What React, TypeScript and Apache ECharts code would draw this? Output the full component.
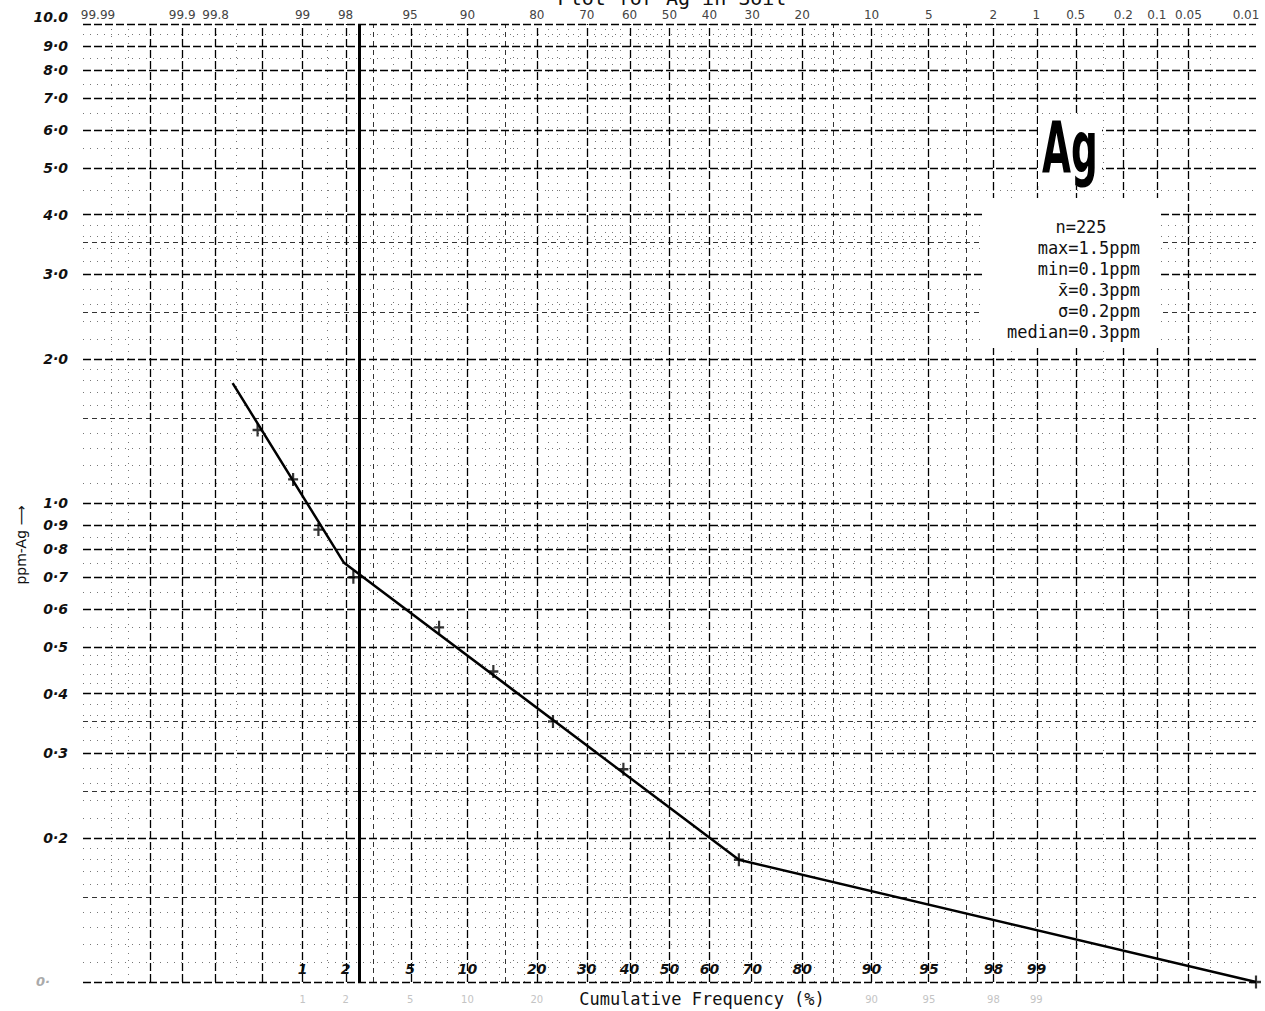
import React, { useEffect, useRef } from "react";
import * as echarts from "echarts";

// ---- data (cumulative frequency %, ppm Ag) ----
const pointPct = [0.45, 0.85, 1.3, 2.25, 7.2, 13.2, 23, 38.5, 67, 99.99];
const pointPpm = [1.42, 1.12, 0.88, 0.7, 0.55, 0.445, 0.35, 0.278, 0.18, 0.1];

const linePct = [0.28, 1.95, 67, 99.99];
const linePpm = [1.78, 0.75, 0.18, 0.1];

const thresholdPct = 2.43;

// ---- tick labels ----
const topTickPct = [0.01, 0.1, 0.2, 1, 2, 5, 10, 20, 30, 40, 50, 60, 70, 80, 90, 95, 98, 99, 99.5, 99.8, 99.9, 99.95, 99.99];
const topTickLabels = ["99.99", "99.9", "99.8", "99", "98", "95", "90", "80", "70", "60", "50", "40", "30", "20", "10", "5", "2", "1", "0.5", "0.2", "0.1", "0.05", "0.01"];

const bottomTickPct = [1, 2, 5, 10, 20, 30, 40, 50, 60, 70, 80, 90, 95, 98, 99];
const bottomTickLabels = ["1", "2", "5", "10", "20", "30", "40", "50", "60", "70", "80", "90", "95", "98", "99"];

const faintTickPct = [1, 2, 5, 10, 20, 90, 95, 98, 99];
const faintTickLabels = ["1", "2", "5", "10", "20", "90", "95", "98", "99"];

const yTickValues = [9.9999, 9, 8, 7, 6, 5, 4, 3, 2, 1, 0.9, 0.8, 0.7, 0.6, 0.5, 0.4, 0.3, 0.2, 0.10001];
const yTickLabels = ["10.0", "9·0", "8·0", "7·0", "6·0", "5·0", "4·0", "3·0", "2·0", "1·0", "0·9", "0·8", "0·7", "0·6", "0·5", "0·4", "0·3", "0·2", "0·"];

// ---- probability paper grid ----
const vMajorPct = [0.01, 0.05, 0.1, 0.2, 0.5, 1, 2, 5, 10, 20, 30, 40, 50, 60, 70, 80, 90, 95, 98, 99, 99.5, 99.8, 99.9, 99.95, 99.99];
const vMidPct = [3, 15, 85, 97];
const vMinorPct = [0.02, 0.03, 0.3, 1.5, 4, 6, 7, 8, 9, 12, 14, 16, 18, 22, 24, 26, 28, 32, 34, 36, 38, 42, 44, 46, 48, 52, 54, 56, 58, 62, 64, 66, 68, 72, 74, 76, 78, 82, 84, 86, 88, 91, 92, 93, 94, 96, 98.5, 99.7, 99.97];

const hMajor = [0.1, 0.2, 0.3, 0.4, 0.5, 0.6, 0.7, 0.8, 0.9, 1, 2, 3, 4, 5, 6, 7, 8, 9, 10];
const hMid = [0.15, 0.25, 0.35, 1.5, 2.5, 3.5];
const hMinor = [0.11, 0.12, 0.13, 0.14, 0.16, 0.17, 0.18, 0.19, 0.22, 0.24, 0.26, 0.28, 0.32, 0.34, 0.36, 0.38, 0.42, 0.44, 0.46, 0.48, 0.55, 0.65, 0.75, 0.85, 1.1, 1.2, 1.3, 1.4, 1.6, 1.7, 1.8, 1.9, 2.2, 2.4, 2.6, 2.8, 3.2, 3.4, 3.6, 3.8, 4.5, 5.5, 6.5, 7.5, 8.5, 9.5];

const statLines = ["max=1.5ppm", "min=0.1ppm", "x̄=0.3ppm", "σ=0.2ppm", "median=0.3ppm"];

// inverse normal CDF (probability paper scale)
function probit(p: number): number {
  const a = [-3.969683028665376e1, 2.209460984245205e2, -2.759285104469687e2, 1.38357751867269e2, -3.066479806614716e1, 2.506628277459239];
  const b = [-5.447609879822406e1, 1.615858368580409e2, -1.556989798598866e2, 6.680131188771972e1, -1.328068155288572e1];
  const c = [-7.784894002430293e-3, -3.223964580411365e-1, -2.400758277161838, -2.549732539343734, 4.374664141464968, 2.938163982698783];
  const d = [7.784695709041462e-3, 3.224671290700398e-1, 2.445134137142996, 3.754408661907416];
  const plow = 0.02425;
  if (p < plow) {
    const q = Math.sqrt(-2 * Math.log(p));
    return (((((c[0] * q + c[1]) * q + c[2]) * q + c[3]) * q + c[4]) * q + c[5]) / ((((d[0] * q + d[1]) * q + d[2]) * q + d[3]) * q + 1);
  }
  if (p <= 1 - plow) {
    const q = p - 0.5;
    const r = q * q;
    return ((((((a[0] * r + a[1]) * r + a[2]) * r + a[3]) * r + a[4]) * r + a[5]) * q) / (((((b[0] * r + b[1]) * r + b[2]) * r + b[3]) * r + b[4]) * r + 1);
  }
  const q = Math.sqrt(-2 * Math.log(1 - p));
  return -(((((c[0] * q + c[1]) * q + c[2]) * q + c[3]) * q + c[4]) * q + c[5]) / ((((d[0] * q + d[1]) * q + d[2]) * q + d[3]) * q + 1);
}
const z = (pct: number) => probit(pct / 100);

function nearestIndex(list: number[], v: number): number {
  let best = 0;
  let bd = Infinity;
  list.forEach((x, i) => {
    const dd = Math.abs(x - v);
    if (dd < bd) {
      bd = dd;
      best = i;
    }
  });
  return best;
}

export default function App() {
  const ref = useRef<HTMLDivElement>(null);

  useEffect(() => {
    document.body.style.margin = "0";
    const chart = echarts.init(ref.current!, null, { renderer: "svg" });

    const zMin = z(0.01);
    const zMax = z(99.99);
    const topZ = topTickPct.map(z);
    const bottomZ = bottomTickPct.map(z);
    const faintZ = faintTickPct.map(z);
    const yLogs = yTickValues.map((v) => Math.log10(v));

    const hand = { fontFamily: "DejaVu Sans", fontStyle: "italic" as const, fontWeight: "bold" as const };
    const mono = '"DejaVu Sans Mono", monospace';

    const majorStyle = { color: "#000", width: 1.3, type: [8, 3] as number[] };
    const midStyle = { color: "#333", width: 1, type: [5, 4] as number[] };
    const minorStyle = { color: "#777", width: 1, type: [1, 6] as number[] };

    const gridLines: any[] = [];
    vMinorPct.forEach((p) => gridLines.push({ xAxis: z(p), lineStyle: minorStyle }));
    hMinor.forEach((v) => gridLines.push({ yAxis: v, lineStyle: minorStyle }));
    vMidPct.forEach((p) => gridLines.push({ xAxis: z(p), lineStyle: midStyle }));
    hMid.forEach((v) => gridLines.push({ yAxis: v, lineStyle: midStyle }));
    vMajorPct.forEach((p) => gridLines.push({ xAxis: z(p), lineStyle: majorStyle }));
    hMajor.forEach((v) => gridLines.push({ yAxis: v, lineStyle: majorStyle }));
    gridLines.push({ xAxis: z(thresholdPct), lineStyle: { color: "#000", width: 3, type: "solid" } });

    const hiddenAxis = {
      type: "value" as const,
      min: zMin,
      max: zMax,
      axisLine: { show: false },
      axisTick: { show: false },
      splitLine: { show: false },
    };

    const option: any = {
      animation: false,
      backgroundColor: "#ffffff",
      grid: { left: 83, right: 9, top: 24, bottom: 29, containLabel: false },
      xAxis: [
        {
          ...hiddenAxis,
          position: "bottom",
          axisLabel: {
            inside: true,
            margin: 6,
            customValues: bottomZ,
            formatter: (v: number) => bottomTickLabels[nearestIndex(bottomZ, v)],
            color: "#111",
            fontSize: 14,
            ...hand,
          },
        },
        {
          ...hiddenAxis,
          position: "bottom",
          axisLabel: {
            margin: 12,
            customValues: faintZ,
            formatter: (v: number) => faintTickLabels[nearestIndex(faintZ, v)],
            color: "#c4c4c4",
            fontSize: 10,
            fontFamily: "DejaVu Sans",
          },
        },
        {
          ...hiddenAxis,
          position: "top",
          axisLabel: {
            margin: 3,
            customValues: topZ,
            formatter: (v: number) => {
              const i = nearestIndex(topZ, v);
              const t = topTickLabels[i];
              if (i === 0) return `{first|${t}}`;
              if (i === topZ.length - 1) return `{last|${t}}`;
              return t;
            },
            color: "#444",
            fontSize: 12,
            fontFamily: "DejaVu Sans",
            rich: {
              first: { padding: [0, 0, 0, 30], color: "#444", fontSize: 12, fontFamily: "DejaVu Sans" },
              last: { padding: [0, 20, 0, 0], color: "#444", fontSize: 12, fontFamily: "DejaVu Sans" },
            },
          },
        },
      ],
      yAxis: {
        type: "log",
        logBase: 10,
        min: 0.1,
        max: 10,
        axisLine: { show: false },
        axisTick: { show: false },
        splitLine: { show: false },
        minorSplitLine: { show: false },
        axisLabel: {
          align: "right",
          margin: 15,
          customValues: yTickValues,
          formatter: (v: number) => {
            const i = nearestIndex(yLogs, Math.log10(v));
            const t = yTickLabels[i];
            if (i === 0) return `{top|${t}}`;
            return i === yTickLabels.length - 1 ? `{g|${t}}` : t;
          },
          color: "#111",
          fontSize: 14,
          ...hand,
          rich: {
            g: { color: "#aaa", fontSize: 13, fontFamily: "DejaVu Sans", padding: [0, 18, 0, 0] },
            top: { color: "#111", fontSize: 14, ...hand, padding: [0, 0, 14, 0] },
          },
        },
      },
      series: [
        {
          name: "grid",
          type: "line",
          xAxisIndex: 0,
          z: 1,
          data: [[zMin, 1]],
          showSymbol: false,
          symbol: "none",
          lineStyle: { width: 0, opacity: 0 },
          silent: true,
          markLine: {
            silent: true,
            animation: false,
            symbol: ["none", "none"],
            label: { show: false },
            emphasis: { disabled: true },
            data: gridLines,
          },
        },
        {
          name: "fit",
          type: "line",
          xAxisIndex: 0,
          z: 5,
          data: linePct.map((p, i) => [z(p), linePpm[i]]),
          symbol: "none",
          lineStyle: { color: "#000", width: 2.5 },
          silent: true,
        },
        {
          name: "samples",
          type: "scatter",
          xAxisIndex: 0,
          z: 6,
          data: pointPct.map((p, i) => [z(p), pointPpm[i]]),
          symbol: "path://M3.9,0H6.1V12H3.9ZM0,4.9H10V7.1H0Z",
          symbolSize: [10, 13],
          itemStyle: { color: "#000" },
          silent: true,
        },
      ],
      graphic: [
        { type: "rect", z: 100, shape: { x: 983, y: 198, width: 177, height: 150 }, style: { fill: "#fff" } },
        { type: "rect", z: 100, shape: { x: 1038, y: 114, width: 64, height: 72 }, style: { fill: "#fff" } },
        {
          type: "text",
          z: 101,
          x: 1070,
          y: 148,
          scaleX: 0.52,
          style: {
            text: "Ag",
            fill: "#000",
            font: 'bold 72px "DejaVu Sans"',
            align: "center",
            verticalAlign: "middle",
            textAlign: "center",
            textVerticalAlign: "middle",
          },
        },
        {
          type: "text",
          z: 101,
          x: 1081,
          y: 227,
          style: { text: "n=225", fill: "#111", font: `17px ${mono}`, align: "center", verticalAlign: "middle", textAlign: "center", textVerticalAlign: "middle" },
        },
        ...statLines.map((t, i) => ({
          type: "text",
          z: 101,
          x: 1140,
          y: 248 + i * 21,
          style: { text: t, fill: "#111", font: `17px ${mono}`, align: "right", verticalAlign: "middle", textAlign: "right", textVerticalAlign: "middle" },
        })),
        {
          type: "text",
          z: 101,
          x: 702,
          y: 999,
          style: { text: "Cumulative Frequency (%)", fill: "#111", font: `17px ${mono}`, align: "center", verticalAlign: "middle", textAlign: "center", textVerticalAlign: "middle" },
        },
        {
          type: "text",
          z: 101,
          x: 672,
          y: 8,
          style: { text: "Plot for Ag in Soil", fill: "#111", font: `20px ${mono}`, align: "center", verticalAlign: "bottom", textAlign: "center", textVerticalAlign: "bottom" },
        },
        {
          type: "text",
          z: 101,
          x: 21,
          y: 545,
          rotation: Math.PI / 2,
          style: { text: "ppm-Ag ⟶", fill: "#111", font: '14px "DejaVu Sans"', align: "center", verticalAlign: "middle", textAlign: "center", textVerticalAlign: "middle" },
        },
      ],
    };

    chart.setOption(option);
    return () => chart.dispose();
  }, []);

  return <div ref={ref} style={{ width: 1265, height: 1011 }} />;
}
